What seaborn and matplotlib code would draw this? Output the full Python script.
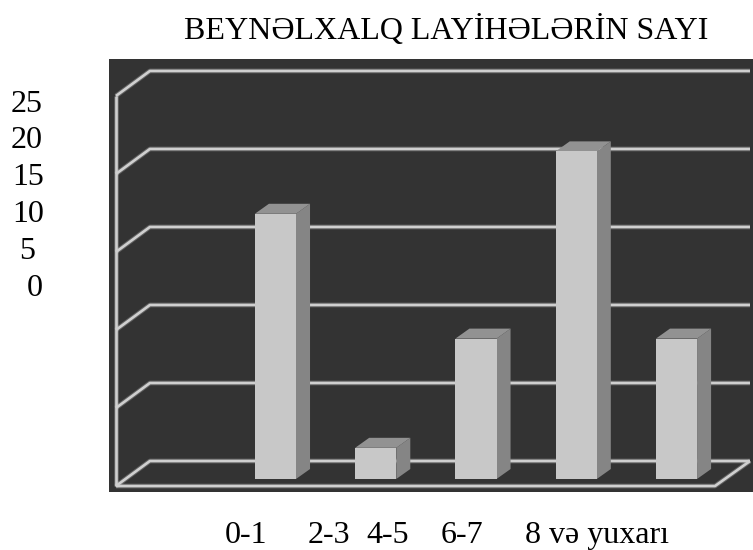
import matplotlib.pyplot as plt
import pandas as pd
import seaborn as sns

categories = ["0-1", "2-3", "4-5", "6-7", "8 və yuxarı"]
values = [17, 2, 9, 21, 9]
y_ticks = [0, 5, 10, 15, 20, 25]
x_labels = ["0-1", "2-3", "4-5", "6-7", "8 və yuxarı"]
y_labels = ["25", "20", "15", "10", "5", "0"]
title = "BEYNƏLXALQ LAYİHƏLƏRİN SAYI"

W, H = 753, 550
PANEL = "#333333"
LINE = "#cfcfcf"
FRONT = "#c8c8c8"
SIDE = "#858585"
TOP = "#929292"


def fx(x):
    return x / W


def fy(y):
    return 1 - y / H


def wall_line(ax, xs, ys):
    # soft halo under the line, the source image is a blurry scan
    ax.plot(xs, ys, color=LINE, lw=3.4, alpha=0.3, zorder=1, solid_capstyle="butt")
    ax.plot(xs, ys, color=LINE, lw=1.9, zorder=1, solid_capstyle="butt")


sns.set_theme(style="white")
plt.rcParams["font.family"] = ["Liberation Serif", "DejaVu Serif"]

fig = plt.figure(figsize=(W / 100, H / 100), dpi=100, facecolor="white")
ax = fig.add_axes([fx(109), fy(492), fx(753 - 109), (492 - 59) / H], facecolor=PANEL)

df = pd.DataFrame({"cat": categories, "val": values})
sns.barplot(data=df, x="cat", y="val", color=FRONT, saturation=1, width=0.41, ax=ax,
            zorder=3, linewidth=0, edgecolor="none")

ax.set_xlim(-1.66, 4.763)
ax.set_ylim(-0.833, 26.92)
ax.set_xticks([])
ax.set_yticks([])
ax.set_xlabel("")
ax.set_ylabel("")
for s in ax.spines.values():
    s.set_visible(False)

# fake 3d walls, offsets in data units
x_front, x_back, x_right, x_floor = -1.591, -1.252, 4.733, 4.384
back_off, front_off = 1.154, -0.45
for v in y_ticks:
    wall_line(ax, [x_front, x_back, x_right], [v + front_off, v + back_off, v + back_off])
wall_line(ax, [x_front, x_front], [y_ticks[0] + front_off, y_ticks[-1] + front_off])
wall_line(ax, [x_front, x_floor, x_right], [front_off, front_off, back_off])

# side and top faces of each bar
dx, dy = 0.14, 0.64
for bar in list(ax.patches):
    x0 = bar.get_x()
    x1 = x0 + bar.get_width()
    h = bar.get_height()
    ax.fill([x1, x1 + dx, x1 + dx, x1], [0, dy, h + dy, h], color=SIDE, lw=0, zorder=2.5)
    ax.fill([x0, x0 + dx, x1 + dx, x1], [h, h + dy, h + dy, h], color=TOP, lw=0, zorder=2.5)

fig.text(fx(446), fy(39), title, ha="center", va="baseline", fontsize=23, color="black")

x_pos = [246, 329, 388, 462, 597]
for lab, x in zip(x_labels, x_pos):
    fig.text(fx(x), fy(543), lab, ha="center", va="baseline", fontsize=23, color="black")

y_pos = [112, 148, 185, 222, 259, 296]
y_left = [11, 11, 12, 12, 19, 27]
for lab, x, y in zip(y_labels, y_left, y_pos):
    fig.text(fx(x), fy(y), lab, ha="left", va="baseline", fontsize=23, color="black")

fig.savefig("out.png", dpi=100)
